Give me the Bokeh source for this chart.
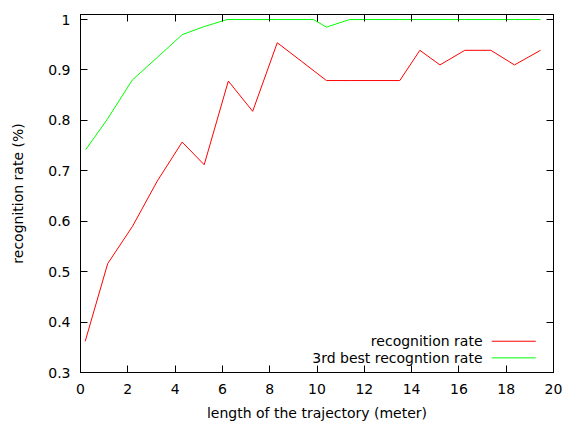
from bokeh.plotting import figure
from bokeh.models import LinearAxis, Range1d, FixedTicker, Label
from bokeh.embed import file_html
from bokeh.resources import INLINE

# --- data ---
x_rate = [0.2, 1.15, 2.2, 3.25, 4.3, 5.23, 6.25, 7.28, 8.32, 9.35, 10.4, 11.4,
          12.45, 13.5, 14.35, 15.2, 16.25, 17.35, 18.35, 19.45]
rate = [0.362, 0.516, 0.59, 0.68, 0.757, 0.712, 0.878, 0.818, 0.954, 0.917,
        0.879, 0.879, 0.879, 0.879, 0.939, 0.910, 0.939, 0.939, 0.910, 0.939]

x_best3 = [0.22, 1.13, 2.19, 3.25, 4.3, 5.23, 6.2, 7.28, 8.32, 9.85, 10.4, 11.38,
           12.45, 13.5, 14.35, 15.2, 16.25, 17.35, 18.35, 19.45]
best3 = [0.742, 0.802, 0.880, 0.925, 0.970, 0.986, 1.0, 1.0, 1.0, 1.0, 0.985, 1.0,
         1.0, 1.0, 1.0, 1.0, 1.0, 1.0, 1.0, 1.0]

x_ticks = [0, 2, 4, 6, 8, 10, 12, 14, 16, 18, 20]
y_ticks = [0.3, 0.4, 0.5, 0.6, 0.7, 0.8, 0.9, 1.0]
series_labels = ["recognition rate", "3rd best recogntion rate"]
series_colors = ["#ff0000", "#00ff00"]

FONT = "DejaVu Sans"
FS = "14px"

p = figure(width=564, height=424, output_backend="svg", toolbar_location=None,
           x_range=Range1d(0, 20), y_range=Range1d(0.3, 1.01),
           min_border_left=80, min_border_right=11, min_border_top=14,
           min_border_bottom=52)
p.background_fill_color = "white"
p.border_fill_color = "white"
p.outline_line_color = "black"
p.outline_line_width = 1
p.grid.visible = False

p.line(x_rate, rate, line_color=series_colors[0], line_width=1)
p.line(x_best3, best3, line_color=series_colors[1], line_width=1)

def style(ax, ticks, show_labels):
    ax.ticker = FixedTicker(ticks=ticks)
    ax.major_tick_in = 7
    ax.major_tick_out = 0
    ax.minor_tick_line_color = None
    ax.axis_line_color = "black"
    ax.major_tick_line_color = "black"
    ax.major_label_text_font = FONT
    ax.major_label_text_font_size = FS
    ax.major_label_text_color = "black" if show_labels else None
    ax.axis_label_text_font = FONT
    ax.axis_label_text_font_size = FS
    ax.axis_label_text_font_style = "normal"
    ax.axis_label_text_color = "black"

xa = p.xaxis[0]
style(xa, x_ticks, True)
xa.axis_label = "length of the trajectory (meter)"
xa.major_label_standoff = 11
xa.axis_label_standoff = 8
xa.major_label_overrides = {t: str(t) for t in x_ticks}

ya = p.yaxis[0]
style(ya, y_ticks, True)
ya.axis_label = "recognition rate (%)"
ya.major_label_standoff = 10
ya.axis_label_standoff = 19
ya.major_label_overrides = {t: ("1" if t == 1.0 else f"{t:.1f}") for t in y_ticks}

top = LinearAxis()
style(top, x_ticks, False)
top.major_label_text_font_size = "0px"
top.major_label_standoff = 0
p.add_layout(top, "above")

right = LinearAxis()
style(right, y_ticks, False)
right.major_label_text_font_size = "0px"
right.major_label_standoff = 0
p.add_layout(right, "right")

# legend (gnuplot style: text on left, sample line on right)
leg_text_x = 17.0
leg_line_x0, leg_line_x1 = 17.39, 19.25
leg_y = [0.362, 0.329]
for lbl, col, yy in zip(series_labels, series_colors, leg_y):
    p.add_layout(Label(x=leg_text_x, y=yy, text=lbl, text_align="right",
                       text_baseline="middle", text_font=FONT,
                       text_font_size=FS, text_color="black"))
    p.line([leg_line_x0, leg_line_x1], [yy, yy], line_color=col, line_width=1)

open("out.html", "w").write(file_html(p, INLINE))
